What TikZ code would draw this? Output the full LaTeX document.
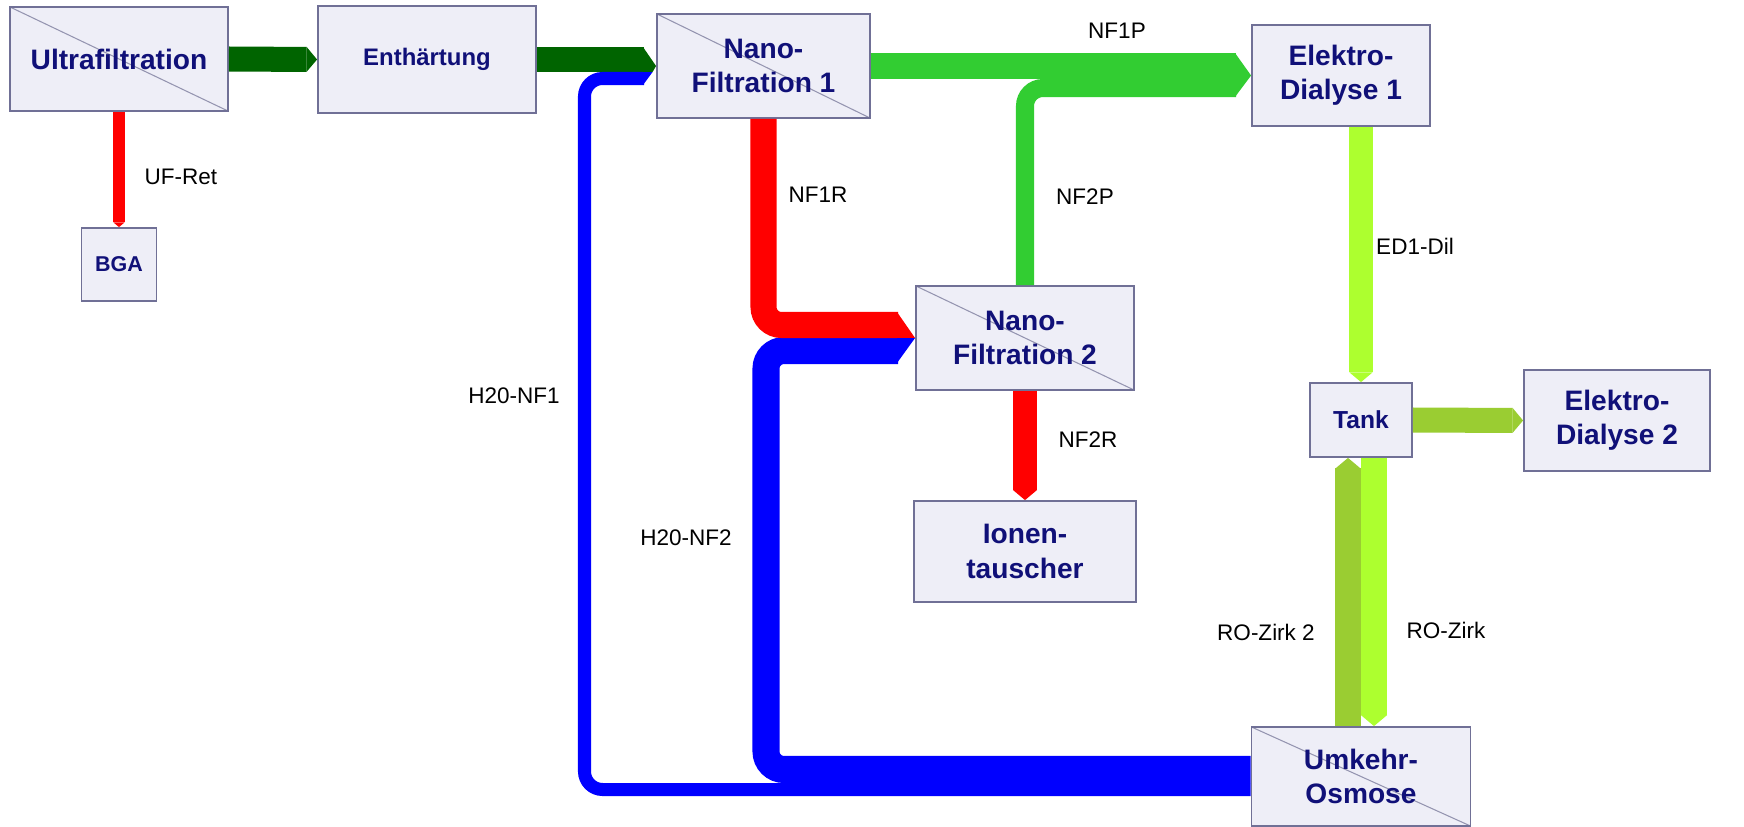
\documentclass[tikz,border=0pt]{standalone}
\usepackage{fontspec}
\setmainfont{Liberation Sans}
\usepackage{tikz}
\usetikzlibrary{arrows.meta,calc}

\definecolor{boxfill}{RGB}{238,238,247}
\definecolor{boxline}{RGB}{112,112,150}
\definecolor{boxtext}{RGB}{16,16,120}
\definecolor{darkflow}{RGB}{0,100,0}
\definecolor{limeflow}{RGB}{50,205,50}
\definecolor{yellowflow}{RGB}{173,255,47}
\definecolor{oliveflow}{RGB}{154,205,50}

\begin{document}
\begin{tikzpicture}[x=0.01cm,y=-0.01cm,
  stage/.style={draw=boxline,fill=boxfill,line width=0.5pt,align=center,text=boxtext,inner sep=0pt,
    font=\bfseries\fontsize{8}{9.7}\selectfont},
  memb/.style={stage,path picture={\draw[boxline!75,line width=0.3pt]
    (path picture bounding box.north west) -- (path picture bounding box.south east);}},
  flow/.style={line width=#1,-{Triangle[length=0pt 0.42,width=0pt 1,line width=0pt]}},
  band/.style={line width=#1,rounded corners=0.18cm},
  flowlabel/.style={font=\fontsize{6.4}{7.5}\selectfont,inner sep=0pt}
]
  \useasboundingbox[fill=white] (0,0) rectangle (1744,827);

  \node[memb,minimum width=2.18cm,minimum height=1.04cm] (uf) at (119,59) {Ultrafiltration};
  \node[stage,minimum width=2.18cm,minimum height=1.07cm,font=\bfseries\fontsize{6.8}{8}\selectfont] (enth) at (427,59.5) {Enthärtung};
  \node[stage,minimum width=0.75cm,minimum height=0.73cm,font=\bfseries\fontsize{6.1}{7}\selectfont] (bga) at (119,264.5) {BGA};
  \node[memb,minimum width=2.13cm,minimum height=1.04cm] (nfa) at (763.5,66) {Nano-\\Filtration 1};
  \node[memb,minimum width=2.18cm,minimum height=1.04cm] (nfb) at (1025,338) {Nano-\\Filtration 2};
  \node[stage,minimum width=2.22cm,minimum height=1.01cm] (ion) at (1025,551.5) {Ionen-\\tauscher};
  \node[stage,minimum width=1.78cm,minimum height=1.01cm] (eda) at (1341,75.5) {Elektro-\\Dialyse 1};
  \node[stage,minimum width=1.02cm,minimum height=0.74cm,font=\bfseries\fontsize{7}{8}\selectfont] (tank) at (1361,420) {Tank};
  \node[stage,minimum width=1.86cm,minimum height=1.01cm] (edb) at (1617,420.5) {Elektro-\\Dialyse 2};
  \node[memb,minimum width=2.19cm,minimum height=0.99cm] (ro) at (1361,776.5) {Umkehr-\\Osmose};

  \draw[flow=0.25cm,darkflow] (uf.east) -- (enth.west);
  \draw[flow=0.11cm,red] (uf.south) -- (bga.north);

  \draw[band=0.25cm,darkflow] (enth.east) -- (644,59.5);
  \draw[band=0.13cm,blue] ($(ro.west)+(0,13)$) -| (584.5,78.5) -- (644,78.5);
  \fill[darkflow] (643,47) -- (nfa.west) -- (652.6,72) -- (643,72) -- cycle;
  \fill[blue] (643,72) -- (652.6,72) -- (643,85) -- cycle;

  \draw[band=0.27cm,blue] ($(ro.west)+(0,-7)$) -| (766,350.5) -- (898,350.5);
  \draw[band=0.26cm,red] (nfa.south) |- (898,325);
  \fill[red] (897,312) -- (nfb.west) -- (897,338) -- cycle;
  \fill[blue] (897,338) -- (nfb.west) -- (897,363) -- cycle;

  \draw[band=0.26cm,limeflow] (nfa.east) -- (1236,66);
  \draw[band=0.18cm,limeflow] (nfb.north) |- (1236,88);
  \fill[limeflow] (1235,53) -- (eda.west) -- (1235,97) -- cycle;

  \draw[flow=0.24cm,red] (nfb.south) -- (ion.north);
  \draw[flow=0.23cm,yellowflow] (eda.south -| tank.north) -- (tank.north);
  \draw[flow=0.25cm,oliveflow] (tank.east) -- (edb.west);
  \draw[flow=0.25cm,oliveflow] ($(ro.north)+(-13,0)$) -- ($(tank.south)+(-13,0)$);
  \draw[flow=0.26cm,yellowflow] ($(tank.south)+(13,0)$) -- ($(ro.north)+(13,0)$);

  \node[flowlabel] (lufret) at (181,177) {UF-Ret};
  \node[flowlabel] (lnfar) at (818,195) {NF1R};
  \node[flowlabel] (lnfbp) at (1085,197) {NF2P};
  \node[flowlabel] (lnfap) at (1117,31) {NF1P};
  \node[flowlabel] (leddil) at (1415,246) {ED1-Dil};
  \node[flowlabel] (lhnfa) at (514,396) {H20-NF1};
  \node[flowlabel] (lhnfb) at (686,538) {H20-NF2};
  \node[flowlabel] (lnfbr) at (1088,440) {NF2R};
  \node[flowlabel] (lrozb) at (1266,632) {RO-Zirk 2};
  \node[flowlabel] (lroz) at (1446,630) {RO-Zirk};
\end{tikzpicture}
\end{document}
